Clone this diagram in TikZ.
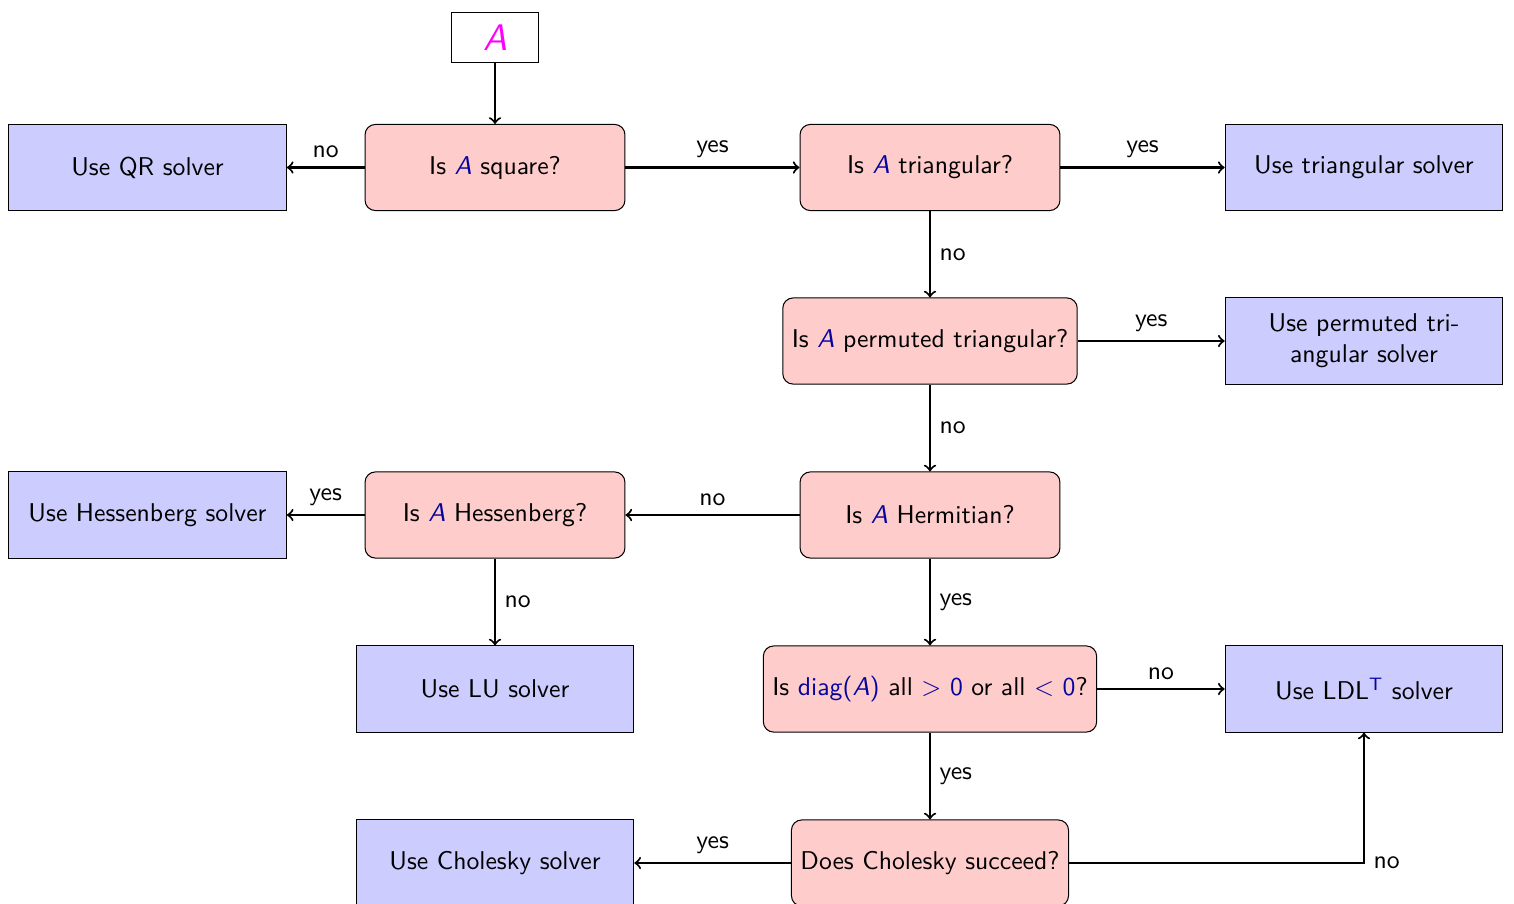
\documentclass[tikz,border=0pt]{standalone}
\renewcommand{\familydefault}{\sfdefault}
\definecolor{mb}{rgb}{0.02,0.02,0.62}
\definecolor{mag}{rgb}{1,0,1}
\newcommand{\mA}{{\color{mb}\textit{A}}}
\begin{document}
\begin{tikzpicture}[x=0.389pt,y=-0.389pt,
  dec/.style={draw, fill=red!20, rounded corners=4pt, minimum width=101.1pt, minimum height=33.5pt, inner sep=3.5pt},
  sol/.style={draw, fill=blue!20, minimum width=108pt, minimum height=33.5pt, align=center, inner sep=3pt},
  startbox/.style={draw, fill=white, minimum width=33.5pt, minimum height=19.8pt},
  arr/.style={->, thick}]
\useasboundingbox (0,0) rectangle (1514,904);
\node[startbox] (A) at (495,37.5) {\Large\color{mag}\textit{A}};
\node[dec] (sq) at (495,167.5) {Is \mA{} square?};
\node[sol] (qr) at (147.5,167.5) {Use QR solver};
\node[dec] (tri) at (930,167.5) {Is \mA{} triangular?};
\node[sol] (trisol) at (1364,167.5) {Use triangular solver};
\node[dec] (perm) at (930,341) {Is \mA{} permuted triangular?};
\node[sol] (permsol) at (1364,341) {Use permuted tri-\\angular solver};
\node[dec] (herm) at (930,515) {Is \mA{} Hermitian?};
\node[dec] (hess) at (495,515) {Is \mA{} Hessenberg?};
\node[sol] (hesssol) at (147.5,515) {Use Hessenberg solver};
\node[sol] (lu) at (495,689) {Use LU solver};
\node[dec] (diag) at (930,689) {Is {\color{mb}diag(\textit{A})} all {\color{mb}$>$ 0} or all {\color{mb}$<$ 0}?};
\node[sol] (ldl) at (1364,689) {Use LDL\textsuperscript{\color{mb}T} solver};
\node[dec] (chol) at (930,863) {Does Cholesky succeed?};
\node[sol] (cholsol) at (495,863) {Use Cholesky solver};
\draw[arr] (A) -- (sq);
\draw[arr] (sq) -- node[above]{no} (qr);
\draw[arr] (sq) -- node[above]{yes} (tri);
\draw[arr] (tri) -- node[above]{yes} (trisol);
\draw[arr] (tri) -- node[right]{no} (perm);
\draw[arr] (perm) -- node[above]{yes} (permsol);
\draw[arr] (perm) -- node[right]{no} (herm);
\draw[arr] (herm) -- node[above]{no} (hess);
\draw[arr] (hess) -- node[above]{yes} (hesssol);
\draw[arr] (hess) -- node[right]{no} (lu);
\draw[arr] (herm) -- node[right]{yes} (diag);
\draw[arr] (diag) -- node[above]{no} (ldl);
\draw[arr] (diag) -- node[right]{yes} (chol);
\draw[arr] (chol) -- node[above]{yes} (cholsol);
\draw[arr] (chol) -| node[right, pos=0.5]{no} (ldl);
\end{tikzpicture}
\end{document}
